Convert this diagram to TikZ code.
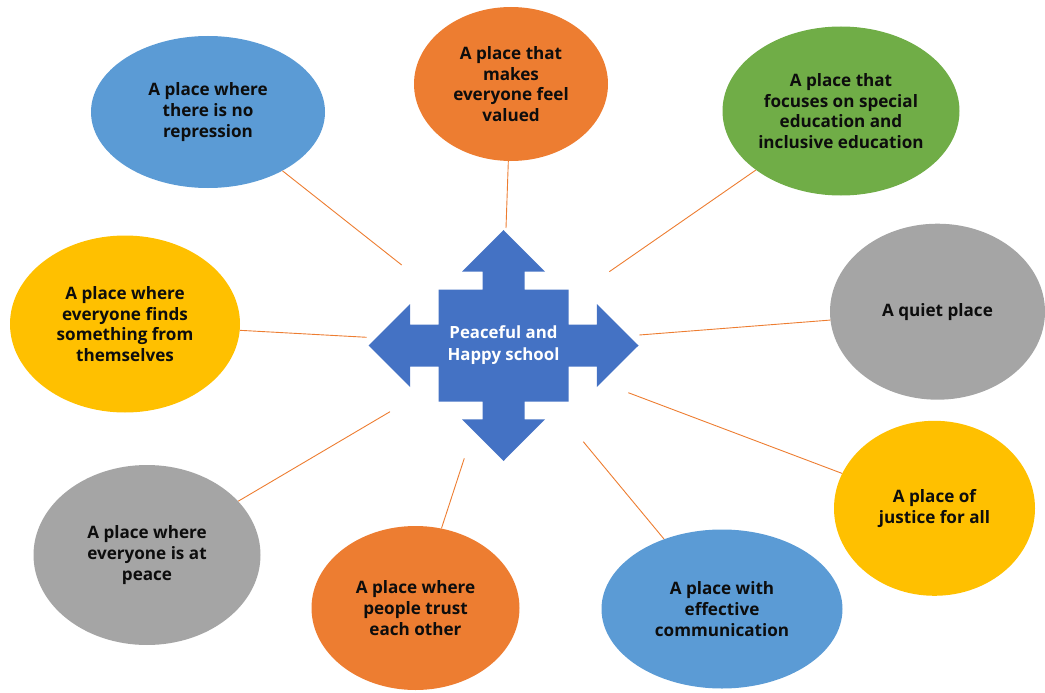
\documentclass[tikz,border=0pt]{standalone}
\usepackage{fontspec}
\setmainfont{Open Sans}
\usetikzlibrary{shapes.geometric}
\definecolor{oblue}{HTML}{5B9BD5}
\definecolor{oorange}{HTML}{ED7D31}
\definecolor{ogreen}{HTML}{70AD47}
\definecolor{ogray}{HTML}{A5A5A5}
\definecolor{oyellow}{HTML}{FFC000}
\definecolor{arrowblue}{HTML}{4472C4}
\definecolor{txt}{HTML}{0D0D0D}
\tikzset{
  bubble/.style={ellipse, draw=none, inner sep=0pt, align=center, text=txt,
    font=\bfseries\fontsize{17.1}{20.8}\selectfont},
  spoke/.style={draw=oorange, line width=0.9pt},
  hubtext/.style={align=center, text=white, font=\bfseries\fontsize{16.8}{21.5}\selectfont}
}
\begin{document}
\begin{tikzpicture}[x=1pt,y=-1pt]
\useasboundingbox (0,0) rectangle (1045,693);
% ellipses
\node[bubble, fill=oblue, minimum width=234pt, minimum height=152pt] (e1) at (208,112) {A place where\\there is no\\repression};
\node[bubble, fill=oorange, minimum width=194pt, minimum height=154pt] (e2) at (511,84) {A place that\\makes\\everyone feel\\valued};
\node[bubble, fill=ogreen, minimum width=237pt, minimum height=169pt] (e3) at (841,111) {A place that\\focuses on special\\education and\\inclusive education};
\node[bubble, fill=ogray, minimum width=215pt, minimum height=176pt] (e4) at (937.5,311.7) {A quiet place};
\node[bubble, fill=oyellow, minimum width=201pt, minimum height=175pt] (e5) at (934.5,508.3) {A place of\\justice for all};
\node[bubble, fill=oblue, minimum width=241pt, minimum height=159pt] (e6) at (722,609) {A place with\\effective\\communication};
\node[bubble, fill=oorange, minimum width=208pt, minimum height=164pt] (e7) at (415.5,608) {A place where\\people trust\\each other};
\node[bubble, fill=ogray, minimum width=227pt, minimum height=180pt] (e8) at (147,555) {A place where\\everyone is at\\peace};
\node[bubble, fill=oyellow, minimum width=230pt, minimum height=177pt] (e9) at (125,324) {A place where\\everyone finds\\something from\\themselves};
% central four-way arrow
\fill[arrowblue, shift={(503.5,345.5)}]
 (0,-115.5) -- (41.5,-73.8) -- (21,-73.8) -- (21,-56) -- (65,-56) -- (65,-21) -- (93.3,-21) -- (93.3,-41.5)
 -- (135,0) -- (93.3,41.5) -- (93.3,21) -- (65,21) -- (65,56) -- (21,56) -- (21,73.8) -- (41.5,73.8)
 -- (0,115.5) -- (-41.5,73.8) -- (-21,73.8) -- (-21,56) -- (-65,56) -- (-65,21) -- (-93.3,21) -- (-93.3,41.5)
 -- (-135,0) -- (-93.3,-41.5) -- (-93.3,-21) -- (-65,-21) -- (-65,-56) -- (-21,-56) -- (-21,-73.8) -- (-41.5,-73.8) -- cycle;
\node[hubtext] (hub) at (503.5,345) {Peaceful and\\Happy school};
% spoke ends near the arrow
\coordinate (c1) at (401.7,265);
\coordinate (c2) at (506,228);
\coordinate (c3) at (609.3,271.7);
\coordinate (c4) at (639.3,335);
\coordinate (c5) at (628.3,392.7);
\coordinate (c6) at (583.3,441.7);
\coordinate (c7) at (464.3,458.3);
\coordinate (c8) at (390,411.7);
\coordinate (c9) at (366.7,337.3);
\draw[spoke] (e1) -- (c1);
\draw[spoke] (e2) -- (c2);
\draw[spoke] (e3) -- (c3);
\draw[spoke] (e4) -- (c4);
\draw[spoke] (e5) -- (c5);
\draw[spoke] (e6) -- (c6);
\draw[spoke] (e7) -- (c7);
\draw[spoke] (e8) -- (c8);
\draw[spoke] (e9) -- (c9);
\end{tikzpicture}
\end{document}
